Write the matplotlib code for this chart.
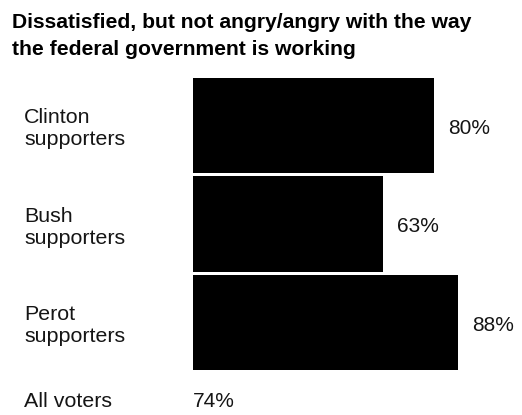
import matplotlib
matplotlib.use("Agg")
import matplotlib.pyplot as plt
import matplotlib.transforms as mtransforms

title_lines = ["Dissatisfied, but not angry/angry with the way",
               "the federal government is working"]
categories = ["Clinton\nsupporters", "Bush\nsupporters", "Perot\nsupporters"]
values = [80, 63, 88]
value_labels = ["80%", "63%", "88%"]
total_label = "All voters"
total_value = 74
total_value_label = "74%"

W, H = 522, 415
plt.rcParams['font.family'] = ['Liberation Sans', 'DejaVu Sans']
fig = plt.figure(figsize=(W / 100, H / 100), dpi=100)
fig.patch.set_facecolor('white')

# axes geometry in pixels
left_px = 193
width_px = 301
top_px = 76.25
height_px = 295.5
ax = fig.add_axes([left_px / W, (H - top_px - height_px) / H, width_px / W, height_px / H])
ax.set_xlim(0, 100)
ax.set_ylim(len(categories) - 0.5, -0.5)
ax.axis('off')

ypos = list(range(len(categories)))
ax.barh(ypos, values, height=0.965, color='black', edgecolor='none')

txt_color = '#151515'
lab_size = 15.4

# value labels
for y, v, lab in zip(ypos, values, value_labels):
    ax.annotate(lab, xy=(v, y), xytext=(10.5, -2), textcoords='offset points',
                ha='left', va='center', fontsize=15, color=txt_color)

# category labels (figure x, data y)
trans = mtransforms.blended_transform_factory(fig.transFigure, ax.transData)
for y, lab in zip(ypos, categories):
    ax.annotate(lab, xy=(24 / W, y), xycoords=trans, xytext=(0, -2.5),
                textcoords='offset points', ha='left', va='center',
                fontsize=lab_size, linespacing=1.2, color=txt_color,
                annotation_clip=False)

# All voters row
y_total = 2.8
ax.annotate(total_label, xy=(24 / W, y_total), xycoords=trans, ha='left',
            va='center', fontsize=lab_size, color=txt_color, annotation_clip=False)
ax.annotate(total_value_label, xy=(0, y_total), ha='left', va='center',
            fontsize=15, color=txt_color, annotation_clip=False)

# title
fig.text(12 / W, 1 - 28 / H, title_lines[0], ha='left', va='baseline',
         fontsize=15.2, fontweight='bold', color='black')
fig.text(12 / W, 1 - 55 / H, title_lines[1], ha='left', va='baseline',
         fontsize=15.2, fontweight='bold', color='black')

fig.savefig('out.png', dpi=100, facecolor='white')
